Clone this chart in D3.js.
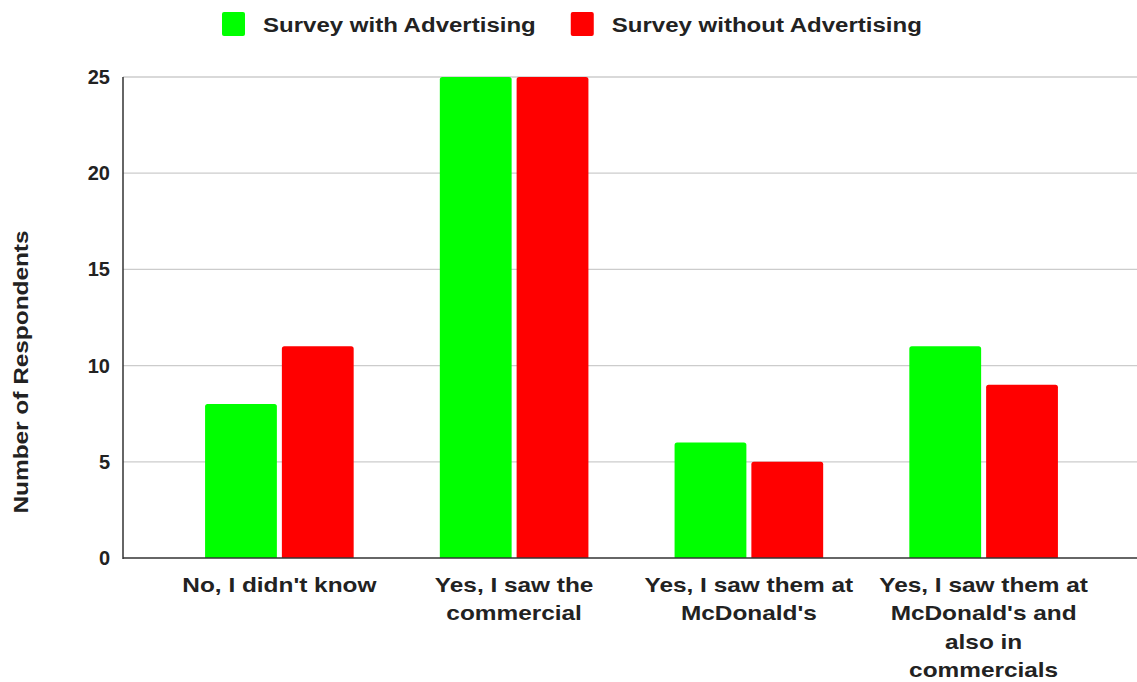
<!DOCTYPE html>
<html>
<head>
<meta charset="utf-8">
<script src="https://cdn.jsdelivr.net/npm/d3@7"></script>
<style>
  html, body { margin: 0; padding: 0; background: #fff; }
  svg { display: block; font-family: "Liberation Sans", Arial, sans-serif; }
</style>
</head>
<body>
<svg id="chart" width="1137" height="682"></svg>
<script>
// Survey answers and respondent counts per survey
const categories = [
  "No, I didn't know",
  "Yes, I saw the commercial",
  "Yes, I saw them at McDonald's",
  "Yes, I saw them at McDonald's and also in commercials"
];
// Wrapped label lines for each category
const categoryLines = [
  ["No, I didn't know"],
  ["Yes, I saw the", "commercial"],
  ["Yes, I saw them at", "McDonald's"],
  ["Yes, I saw them at", "McDonald's and", "also in", "commercials"]
];
const seriesNames = ["Survey with Advertising", "Survey without Advertising"];
const withAdvertising = [8, 25, 6, 11];
const withoutAdvertising = [11, 25, 5, 9];
const yTicks = [0, 5, 10, 15, 20, 25];
const colors = ["#00ff00", "#ff0000"];

const seriesValues = [withAdvertising, withoutAdvertising];
const svg = d3.select("#chart");
const FONT = "'Liberation Sans', Arial, sans-serif";
const TEXT_COLOR = "#222";
const WIDEN = 1.19; // horizontal widening of label glyphs

const plot = { left: 123, right: 1137, top: 77, bottom: 558 };

const y = d3.scaleLinear().domain([0, 25]).range([plot.bottom, plot.top]);
const x0 = d3.scaleBand().domain(categories).range([162, 1101])
  .paddingInner(0.367).paddingOuter(0.1835);
const x1 = d3.scaleBand().domain(seriesNames).range([0, x0.bandwidth()])
  .paddingInner(0.065).paddingOuter(0);

// Horizontal gridlines
svg.append("g")
  .selectAll("line")
  .data(yTicks.filter(d => d > 0))
  .join("line")
  .attr("x1", plot.left).attr("x2", plot.right)
  .attr("y1", d => y(d)).attr("y2", d => y(d))
  .attr("stroke", "#cccccc").attr("stroke-width", 1.3);

// Y tick labels
const yAxis = d3.axisLeft(y).tickValues(yTicks).tickSize(0).tickPadding(13);
const yg = svg.append("g").attr("transform", `translate(${plot.left},0)`).call(yAxis);
yg.select(".domain").remove();
yg.selectAll("text")
  .attr("font-family", FONT)
  .attr("font-size", 20).attr("font-weight", "bold").attr("fill", TEXT_COLOR);

// Bars with slightly rounded top corners
function barPath(x, y0, w, h, r) {
  r = Math.min(r, h, w / 2);
  return `M${x},${y0 + h}V${y0 + r}Q${x},${y0} ${x + r},${y0}H${x + w - r}Q${x + w},${y0} ${x + w},${y0 + r}V${y0 + h}Z`;
}
const bars = [];
categories.forEach((c, i) => {
  seriesNames.forEach((s, j) => bars.push({ c, s, j, v: seriesValues[j][i] }));
});
svg.append("g")
  .selectAll("path")
  .data(bars)
  .join("path")
  .attr("d", d => barPath(x0(d.c) + x1(d.s), y(d.v), x1.bandwidth(), y(0) - y(d.v), 2.5))
  .attr("fill", d => colors[d.j]);

// Axis lines
svg.append("line")
  .attr("x1", plot.left).attr("x2", plot.left)
  .attr("y1", plot.top).attr("y2", plot.bottom + 1)
  .attr("stroke", "#333").attr("stroke-width", 1.5);
svg.append("line")
  .attr("x1", plot.left).attr("x2", plot.right)
  .attr("y1", plot.bottom).attr("y2", plot.bottom)
  .attr("stroke", "#333").attr("stroke-width", 1.5);

// Category labels
const xl = svg.append("g");
categories.forEach((c, i) => {
  const cx = x0(c) + x0.bandwidth() / 2;
  const t = xl.append("text")
    .attr("transform", `translate(${cx},592) scale(${WIDEN},1)`)
    .attr("text-anchor", "middle")
    .attr("font-size", 20.5).attr("font-weight", "bold").attr("fill", TEXT_COLOR);
  categoryLines[i].forEach((line, k) => {
    t.append("tspan")
      .attr("x", 0)
      .attr("dy", k === 0 ? 0 : 28.5)
      .text(line);
  });
});

// Y axis title
svg.append("text")
  .attr("transform", `translate(28,372) rotate(-90) scale(${WIDEN},1)`)
  .attr("text-anchor", "middle")
  .attr("font-size", 20.5).attr("font-weight", "bold").attr("fill", TEXT_COLOR)
  .text("Number of Respondents");

// Legend
const legend = svg.append("g");
let lx = 222;
seriesNames.forEach((s, j) => {
  legend.append("rect")
    .attr("x", lx).attr("y", 12).attr("width", 23).attr("height", 24)
    .attr("rx", 2).attr("fill", colors[j]);
  const t = legend.append("text")
    .attr("transform", `translate(${lx + 41},31.5) scale(${WIDEN * 0.985},1)`)
    .attr("font-size", 20.5).attr("font-weight", "bold").attr("fill", TEXT_COLOR)
    .text(s);
  lx = lx + 41 + t.node().getComputedTextLength() * WIDEN * 0.985 + 35;
});
</script>
</body>
</html>
